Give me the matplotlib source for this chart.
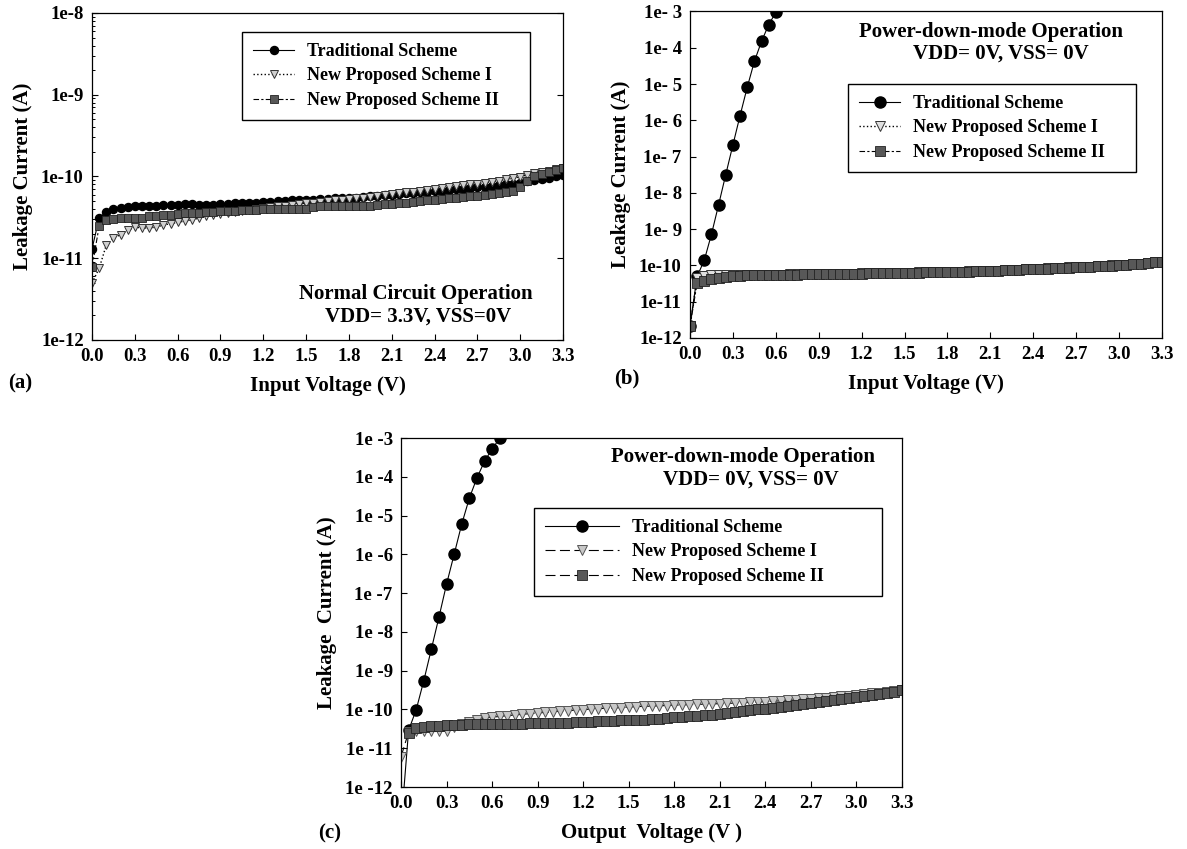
import numpy as np
import matplotlib
matplotlib.use("Agg")
import matplotlib.pyplot as plt
from matplotlib.ticker import FixedLocator, LogLocator, NullFormatter

plt.rcParams['font.family'] = ['Liberation Serif', 'DejaVu Serif']
plt.rcParams['font.weight'] = 'bold'

# voltage sweep, 0.05 V steps
volts = np.round(np.arange(0, 3.30001, 0.05), 2)

# ---- (a) normal circuit operation, currents in pA ----
a_trad = [13, 31, 37, 40, 41, 42, 43, 43, 44, 44, 45, 45, 45, 46, 46, 45, 45, 45, 46, 46,
          47, 47, 48, 48, 49, 49, 50, 50, 51, 51, 52, 52, 53, 53, 54, 54, 55, 55, 56, 57,
          58, 59, 60, 61, 62, 63, 64, 65, 66, 67, 68, 70, 71, 72, 74, 75, 77, 78, 80, 82,
          84, 87, 90, 94, 97, 101, 105]
a_new1 = [5, 7.5, 14.5, 17.5, 19.5, 22, 24, 23.5, 23.5, 24, 25.5, 26.5, 27.5, 28.5, 29.5, 31,
          32.5, 33.5, 34.5, 35.5, 37, 38, 39, 40, 41, 42, 43, 44, 45, 46, 47, 48, 49, 50, 51,
          52, 53, 54, 55, 56, 58, 59, 61, 62, 64, 65, 67, 68, 70, 72, 74, 76, 78, 80, 82, 84,
          86, 89, 92, 95, 99, 105, 110, 114, 118, 122, 126]
a_new2 = [7.8, 24.5, 29.5, 30.5, 31, 31, 31.5, 31, 32.5, 33, 33.5, 34, 34.5, 35.5, 36, 36,
          36.5, 37, 37.5, 38, 38, 38.5, 39, 39, 39.5, 39.5, 40, 40, 40.5, 40.5, 40.5, 42, 43,
          43.5, 43.5, 43.5, 44, 44, 44, 44, 45, 45.5, 46, 47, 48, 49, 50, 51, 52, 53, 54, 55,
          56.5, 57.5, 58.5, 59.5, 61, 62.5, 64, 66, 75, 88, 100, 108, 115, 120, 126]

# ---- (b) power-down, input side ----
b_trad_v = volts[:13]
b_trad = [2.2e-12, 5.0e-11, 1.4e-10, 7.2e-10, 4.7e-9, 3.2e-8, 2.1e-7, 1.35e-6, 8.1e-6,
          4.2e-5, 1.5e-4, 4.3e-4, 9.5e-4]
b_new1 = [2.1, 46, 50, 53, 54, 54, 54, 54, 54.5, 55, 55, 55.5, 56, 56, 56.5, 57, 57, 57.5, 58,
          58, 58.5, 59, 59, 59.5, 60, 60.5, 61, 61.5, 62, 62.5, 63, 63.5, 64, 64.5, 65, 65.5,
          66, 66.5, 67.5, 68.5, 69.5, 70.5, 71.5, 72.5, 73.5, 75, 76.5, 78, 79.5, 81, 82.5, 84,
          86, 88, 89, 91, 93, 95.5, 98, 100, 103, 106, 109, 113, 117, 121, 126]
b_new2 = [2.1, 33, 38, 42, 45, 49, 51, 52, 53, 53.5, 54, 54.5, 55, 55.5, 56, 56, 56.5, 57, 57,
          57.5, 58, 58, 58.5, 59, 59.5, 60, 60.5, 61, 61.5, 62, 62.5, 63, 63.5, 64, 64.5, 65,
          65.5, 66, 67, 68, 69, 70, 71, 72, 73, 74.5, 76, 77.5, 79, 80.5, 82, 83.5, 85, 86.5,
          88, 90, 92, 94, 96.5, 99, 102, 105, 108, 112, 116, 121, 127]

# ---- (c) power-down, output side ----
c_trad_v = volts[:14]
c_trad = [1e-13, 2.9e-11, 9.8e-11, 5.5e-10, 3.6e-9, 2.4e-8, 1.7e-7, 1.0e-6, 6.0e-6, 2.8e-5,
          9.3e-5, 2.5e-4, 5.2e-4, 9.8e-4]
c_new1 = [6, 26, 27, 28, 27, 27, 28, 36, 42, 48, 55, 60, 63, 66, 69, 72, 75, 78, 81, 84, 87,
          90, 93, 96, 99, 102, 105, 107, 109, 112, 115, 118, 120, 122, 124, 126, 129, 131,
          133, 135, 137, 139, 141, 143, 146, 149, 152, 155, 159, 163, 167, 172, 177, 183,
          189, 196, 203, 211, 219, 227, 235, 246, 258, 270, 283, 296, 310]
c_new2 = [np.nan, 25, 34, 36, 37, 38, 39, 40, 40.5, 41, 41, 41.5, 42, 42, 42.5, 43, 43, 43.5,
          44, 44.5, 45, 45.5, 46, 46.5, 47, 48, 49, 50, 51, 52, 53, 54, 55, 57, 58, 60, 62,
          64, 66, 68, 71, 74, 78, 82, 86, 90, 95, 100, 105, 111, 117, 124, 131, 139, 147,
          155, 164, 174, 185, 196, 210, 224, 240, 255, 272, 290, 310]

labels = ['Traditional Scheme', 'New Proposed Scheme I', 'New Proposed Scheme II']
xticks = [0.0, 0.3, 0.6, 0.9, 1.2, 1.5, 1.8, 2.1, 2.4, 2.7, 3.0, 3.3]

W, H = 1187, 849
fig = plt.figure(figsize=(W / 100, H / 100), dpi=100)


def px(l, t, r, b):
    return [l / W, 1 - b / H, (r - l) / W, (b - t) / H]


def setup(ax, ylo, yhi, ylabs, minor=False):
    ax.set_yscale('log')
    ax.set_xlim(0, 3.3)
    ax.set_ylim(ylo, yhi)
    ax.set_xticks(xticks)
    ax.set_xticklabels(['%.1f' % t for t in xticks], fontsize=13.5, fontweight='bold')
    dec = [10.0 ** e for e in range(int(round(np.log10(ylo))), int(round(np.log10(yhi))) + 1)]
    ax.yaxis.set_major_locator(FixedLocator(dec))
    ax.set_yticklabels(ylabs, fontsize=13.5, fontweight='bold')
    if minor:
        ax.yaxis.set_minor_locator(LogLocator(base=10, subs=np.arange(2, 10)))
        ax.yaxis.set_minor_formatter(NullFormatter())
        ax.tick_params(axis='y', which='minor', direction='in', length=2.5, width=0.7)
    else:
        ax.yaxis.set_minor_locator(FixedLocator([]))
    ax.tick_params(axis='both', which='major', direction='in', length=4, width=0.8, pad=6)
    ax.tick_params(axis='x', which='minor', bottom=False)
    for s in ax.spines.values():
        s.set_linewidth(0.9)


def leg(ax, l, t, r, hl):
    # legend box stretched to the width seen in the reference
    lg = ax.legend(loc='upper left', bbox_to_anchor=(l / W, 1 - t / H - 0.2, (r - l) / W, 0.2),
                   bbox_transform=fig.transFigure, mode='expand', numpoints=1, fontsize=13,
                   frameon=True, fancybox=False, edgecolor='black', framealpha=1,
                   handlelength=hl, handletextpad=0.7, labelspacing=0.42,
                   borderpad=0.6, borderaxespad=0)
    lg.get_frame().set_linewidth(1.0)
    for tx in lg.get_texts():
        tx.set_fontweight('bold')


# ---------------- (a) ----------------
ax1 = fig.add_axes(px(92, 13, 563, 340))
ax1.plot(volts, np.array(a_trad) * 1e-12, '-', color='black', lw=0.8,
         marker='o', ms=5.8, mfc='black', mec='black', label=labels[0])
ax1.plot(volts, np.array(a_new1) * 1e-12, ':', color='black', lw=1.0,
         marker='v', ms=5.5, mfc='#d0d0d0', mec='#333333', mew=0.7, label=labels[1])
ax1.plot(volts, np.array(a_new2) * 1e-12, color='black', lw=0.8, dashes=(5, 2, 2, 2),
         marker='s', ms=5.3, mfc='#585858', mec='#222222', mew=0.6, label=labels[2])
setup(ax1, 1e-12, 1e-8, ['1e-12', '1e-11', '1e-10', '1e-9', '1e-8'], minor=True)
ax1.tick_params(axis='y', which='major', right=True)
leg(ax1, 242, 32, 530, 2.3)
ax1.set_xlabel('Input Voltage (V)', fontsize=15, fontweight='bold', labelpad=8)
ax1.set_ylabel('Leakage Current (A)', fontsize=15, fontweight='bold', labelpad=6)
fig.text(416 / W, 1 - 294 / H, 'Normal Circuit Operation', ha='center', va='center',
         fontsize=15, fontweight='bold')
fig.text(418 / W, 1 - 317 / H, 'VDD= 3.3V, VSS=0V', ha='center', va='center',
         fontsize=15, fontweight='bold')
fig.text(20 / W, 1 - 383 / H, '(a)', ha='center', va='center', fontsize=15, fontweight='bold')

# ---------------- (b) ----------------
ax2 = fig.add_axes(px(690, 11.5, 1162, 338))
ax2.plot(b_trad_v, b_trad, '-', color='black', lw=0.8,
         marker='o', ms=8, mfc='black', mec='black', label=labels[0])
ax2.plot(volts, np.array(b_new1) * 1e-12, ':', color='black', lw=1.0,
         marker='v', ms=6.5, mfc='#e0e0e0', mec='#333333', mew=0.7, label=labels[1])
ax2.plot(volts, np.array(b_new2) * 1e-12, color='black', lw=0.8, dashes=(5, 2, 2, 2),
         marker='s', ms=6.5, mfc='#585858', mec='#222222', mew=0.6, label=labels[2])
setup(ax2, 1e-12, 1e-3, ['1e-12', '1e-11', '1e-10', '1e- 9', '1e- 8', '1e- 7',
                         '1e- 6', '1e- 5', '1e- 4', '1e- 3'])
leg(ax2, 848, 84, 1136, 2.3)
ax2.set_xlabel('Input Voltage (V)', fontsize=15, fontweight='bold', labelpad=8)
ax2.set_ylabel('Leakage Current (A)', fontsize=15, fontweight='bold', labelpad=6)
fig.text(991 / W, 1 - 32 / H, 'Power-down-mode Operation', ha='center', va='center',
         fontsize=15, fontweight='bold')
fig.text(1001 / W, 1 - 54 / H, 'VDD= 0V, VSS= 0V', ha='center', va='center',
         fontsize=15, fontweight='bold')
fig.text(627 / W, 1 - 378 / H, '(b)', ha='center', va='center', fontsize=15, fontweight='bold')

# ---------------- (c) ----------------
ax3 = fig.add_axes(px(401, 438, 902, 787))
ax3.plot(c_trad_v, c_trad, '-', color='black', lw=0.8,
         marker='o', ms=8, mfc='black', mec='black', label=labels[0])
ax3.plot(volts, np.array(c_new1) * 1e-12, color='black', lw=0.8, dashes=(9, 4),
         marker='v', ms=7, mfc='#c8c8c8', mec='#555555', mew=0.7, label=labels[1])
ax3.plot(volts, np.array(c_new2) * 1e-12, color='black', lw=0.8, dashes=(9, 4),
         marker='s', ms=7, mfc='#585858', mec='#222222', mew=0.6, label=labels[2])
setup(ax3, 1e-12, 1e-3, ['1e -12', '1e -11', '1e -10', '1e -9', '1e -8', '1e -7',
                         '1e -6', '1e -5', '1e -4', '1e -3'])
leg(ax3, 534, 508, 882, 4.1)
ax3.set_xlabel('Output  Voltage (V )', fontsize=15, fontweight='bold', labelpad=8)
ax3.set_ylabel('Leakage  Current (A)', fontsize=15, fontweight='bold', labelpad=6)
fig.text(743 / W, 1 - 457 / H, 'Power-down-mode Operation', ha='center', va='center',
         fontsize=15, fontweight='bold')
fig.text(751 / W, 1 - 480 / H, 'VDD= 0V, VSS= 0V', ha='center', va='center',
         fontsize=15, fontweight='bold')
fig.text(330 / W, 1 - 833 / H, '(c)', ha='center', va='center', fontsize=15, fontweight='bold')

fig.savefig('out.png', dpi=100)
